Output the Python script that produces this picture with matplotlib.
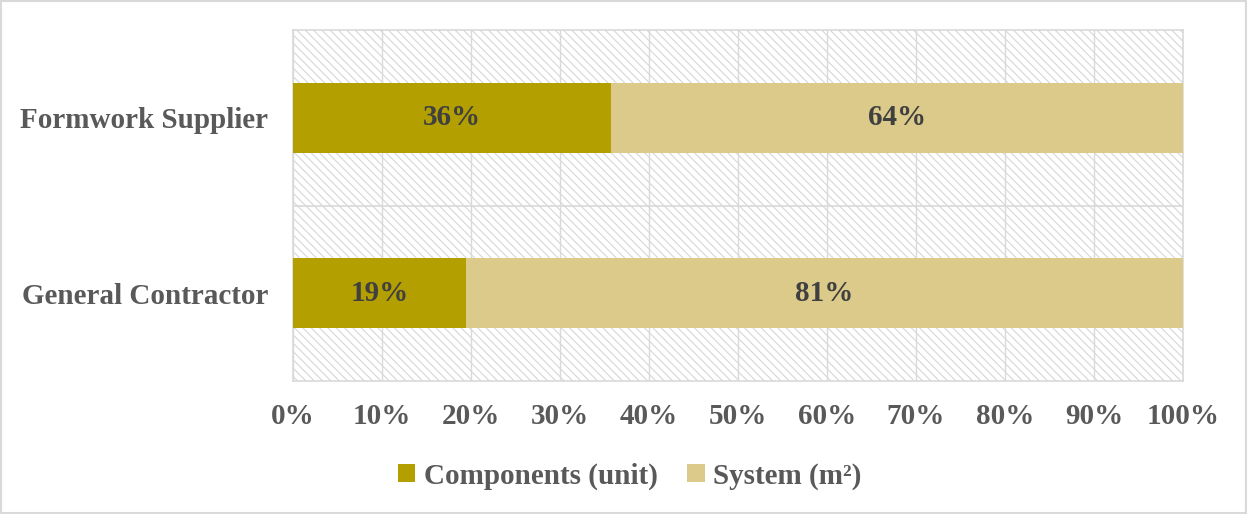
import numpy as np
import matplotlib; matplotlib.use("Agg")
import matplotlib.pyplot as plt
from matplotlib.patches import Rectangle

categories = ["General Contractor", "Formwork Supplier"]
components = [19.4, 35.7]
system = [80.6, 64.3]
series_names = ["Components (unit)", "System (m²)"]
xticks = list(range(0, 101, 10))

plt.rcParams["font.family"] = ["Liberation Serif", "DejaVu Serif"]
plt.rcParams["font.weight"] = "bold"
plt.rcParams["hatch.linewidth"] = 0.8
plt.rcParams["hatch.color"] = "#d6d6d6"

c_comp = "#b49f00"
c_sys = "#dbca8a"
grey = "#595959"
fs = 21

fig = plt.figure(figsize=(12.47, 5.14), dpi=100)
ax = fig.add_axes([293 / 1247, 1 - 381 / 514, 890 / 1247, 351 / 514])

# hatched plot background
ax.add_patch(Rectangle((0, 0), 1, 1, transform=ax.transAxes, facecolor="white",
                       edgecolor="#d6d6d6", hatch="\\\\\\\\", lw=0, zorder=0))

y = np.arange(len(categories))
h = 0.4
b1 = ax.barh(y, components, height=h, color=c_comp, label=series_names[0], zorder=3)
b2 = ax.barh(y, system, left=components, height=h, color=c_sys, label=series_names[1], zorder=3)

for i in range(len(categories)):
    ax.text(components[i] / 2, y[i], f"{round(components[i])}%", ha="center", va="center",
            fontsize=fs, fontweight="bold", color="#404040", zorder=4)
    ax.text(components[i] + system[i] / 2, y[i], f"{round(system[i])}%", ha="center", va="center",
            fontsize=fs, fontweight="bold", color="#404040", zorder=4)

ax.set_xlim(0, 100)
ax.set_ylim(-0.5, 1.5)
ax.set_xticks(xticks)
ax.set_xticklabels([f"{t}%" for t in xticks])
ax.set_yticks(y)
ax.set_yticklabels(categories)
ax.tick_params(length=0, labelsize=fs, labelcolor=grey)
ax.tick_params(axis="y", pad=18)
ax.tick_params(axis="x", pad=16)
for lab in ax.get_xticklabels() + ax.get_yticklabels():
    lab.set_fontweight("bold")
ax.grid(axis="x", color="#d9d9d9", lw=1, zorder=1)
ax.axhline(0.5, color="#d9d9d9", lw=1.2, zorder=1)
ax.set_axisbelow(True)
for s in ax.spines.values():
    s.set_color("#d9d9d9")
    s.set_linewidth(1.2)

leg = fig.legend(handles=[b1, b2], loc="center", bbox_to_anchor=(0.505, 1 - 476 / 514),
                 ncol=2, frameon=False, fontsize=fs, handlelength=0.6, handleheight=0.6,
                 handletextpad=0.3, columnspacing=1.0)
for t in leg.get_texts():
    t.set_color(grey)
    t.set_fontweight("bold")

# outer border
fig.patches.append(Rectangle((0.001, 0.001), 0.998, 0.998, transform=fig.transFigure,
                             fill=False, edgecolor="#d9d9d9", lw=1.5))

fig.savefig("out.png", dpi=100)
